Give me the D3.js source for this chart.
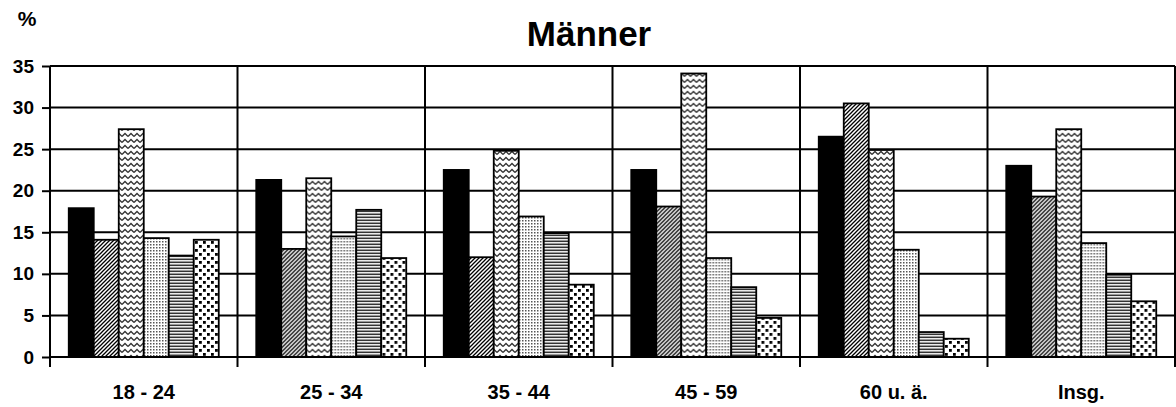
<!DOCTYPE html>
<html><head><meta charset="utf-8">
<script src="https://cdn.jsdelivr.net/npm/d3@7"></script>
<style>html,body{margin:0;padding:0;background:#fff;}svg{display:block;}</style>
</head><body>
<svg id="c" width="1176" height="407"></svg>
<script>
const categories = ["18 - 24", "25 - 34", "35 - 44", "45 - 59", "60 u. ä.", "Insg."];
const seriesNames = ["s1", "s2", "s3", "s4", "s5", "s6"];
const s1 = [17.9, 21.3, 22.5, 22.5, 26.5, 23.0];
const s2 = [14.1, 13.0, 12.0, 18.1, 30.5, 19.3];
const s3 = [27.4, 21.5, 24.8, 34.1, 24.9, 27.4];
const s4 = [14.3, 14.5, 16.9, 11.9, 12.9, 13.7];
const s5 = [12.2, 17.7, 14.9, 8.4, 3.0, 9.9];
const s6 = [14.1, 11.9, 8.7, 4.7, 2.2, 6.7];
const yTicks = [0, 5, 10, 15, 20, 25, 30, 35];
const title = "Männer";
const unit = "%";

(function () {
const series = [s1, s2, s3, s4, s5, s6];
const svg = d3.select("#c");
const mLeft = 50, mRight = 1175, mTop = 66, mBottom = 357;
const font = "'Liberation Sans', Arial, sans-serif";

const defs = svg.append("defs");
const p2 = defs.append("pattern").attr("id", "p2").attr("patternUnits", "userSpaceOnUse").attr("width", 4).attr("height", 4);
p2.append("rect").attr("width", 4).attr("height", 4).attr("fill", "#fff");
p2.append("path").attr("d", "M-1,1 L1,-1 M0,4 L4,0 M3,5 L5,3").attr("stroke", "#000").attr("stroke-width", 1.3);
const p3 = defs.append("pattern").attr("id", "p3").attr("patternUnits", "userSpaceOnUse").attr("width", 6).attr("height", 6);
p3.append("rect").attr("width", 6).attr("height", 6).attr("fill", "#fff");
p3.append("polyline").attr("points", "0,4.5 3,1.5 6,4.5").attr("fill", "none").attr("stroke", "#333").attr("stroke-width", 1.3);
const p4 = defs.append("pattern").attr("id", "p4").attr("patternUnits", "userSpaceOnUse").attr("width", 3).attr("height", 3);
p4.append("rect").attr("width", 3).attr("height", 3).attr("fill", "#fff");
p4.append("rect").attr("x", 1).attr("y", 1).attr("width", 1.5).attr("height", 1.5).attr("fill", "#555");
const p5 = defs.append("pattern").attr("id", "p5").attr("patternUnits", "userSpaceOnUse").attr("width", 4).attr("height", 3);
p5.append("rect").attr("width", 4).attr("height", 3).attr("fill", "#fff");
p5.append("rect").attr("y", 0.5).attr("width", 4).attr("height", 1.6).attr("fill", "#333");
const p6 = defs.append("pattern").attr("id", "p6").attr("patternUnits", "userSpaceOnUse").attr("width", 8).attr("height", 8);
p6.append("rect").attr("width", 8).attr("height", 8).attr("fill", "#fff");
p6.append("rect").attr("x", 1).attr("y", 1).attr("width", 2.8).attr("height", 2.8).attr("fill", "#000");
p6.append("rect").attr("x", 5).attr("y", 5).attr("width", 2.8).attr("height", 2.8).attr("fill", "#000");
const fills = ["#000", "url(#p2)", "url(#p3)", "url(#p4)", "url(#p5)", "url(#p6)"];

const x = d3.scaleBand().domain(categories).range([mLeft, mRight]).padding(0);
const xi = d3.scaleBand().domain(seriesNames).range([x.bandwidth() * 0.1, x.bandwidth() * 0.9]).padding(0);
const y = d3.scaleLinear().domain([0, 35]).range([mBottom, mTop]);

svg.append("g").selectAll("line").data(yTicks).join("line")
  .attr("x1", mLeft).attr("x2", mRight)
  .attr("y1", d => y(d)).attr("y2", d => y(d))
  .attr("stroke", "#000").attr("stroke-width", 2);

const divs = categories.map(c => x(c)).concat([mRight]);
svg.append("g").selectAll("line").data(divs).join("line")
  .attr("x1", d => d).attr("x2", d => d)
  .attr("y1", mTop).attr("y2", mBottom + 10)
  .attr("stroke", "#000").attr("stroke-width", 2);

const yAxis = d3.axisLeft(y).tickValues(yTicks).tickSize(8).tickPadding(6);
const gy = svg.append("g").attr("transform", `translate(${mLeft},0)`).call(yAxis);
gy.select(".domain").remove();
gy.selectAll(".tick line").attr("stroke", "#000").attr("stroke-width", 2);
gy.selectAll(".tick text").attr("font-family", font).attr("font-weight", "bold").attr("font-size", 19).attr("fill", "#000").attr("dx", -2);

const groups = svg.append("g").selectAll("g").data(categories).join("g")
  .attr("transform", c => `translate(${x(c)},0)`);
groups.selectAll("rect").data((c, ci) => series.map((s, si) => ({k: seriesNames[si], v: s[ci], si})))
  .join("rect")
  .attr("x", d => xi(d.k))
  .attr("width", xi.bandwidth())
  .attr("y", d => y(d.v))
  .attr("height", d => y(0) - y(d.v))
  .attr("fill", d => fills[d.si])
  .attr("stroke", "#000").attr("stroke-width", 1.8);

svg.append("line").attr("x1", mLeft).attr("x2", mRight).attr("y1", y(0)).attr("y2", y(0)).attr("stroke", "#000").attr("stroke-width", 2);

svg.append("g").selectAll("text").data(categories).join("text")
  .attr("x", c => x(c) + x.bandwidth() / 2)
  .attr("y", 399)
  .attr("text-anchor", "middle")
  .attr("font-family", font).attr("font-weight", "bold").attr("font-size", 20)
  .text(d => d);

svg.append("text").attr("x", 589).attr("y", 46).attr("text-anchor", "middle")
  .attr("font-family", font).attr("font-weight", "bold").attr("font-size", 35).text(title);
svg.append("text").attr("x", 27).attr("y", 26).attr("text-anchor", "middle")
  .attr("font-family", font).attr("font-weight", "bold").attr("font-size", 21).text(unit);
})();
</script>
</body></html>
